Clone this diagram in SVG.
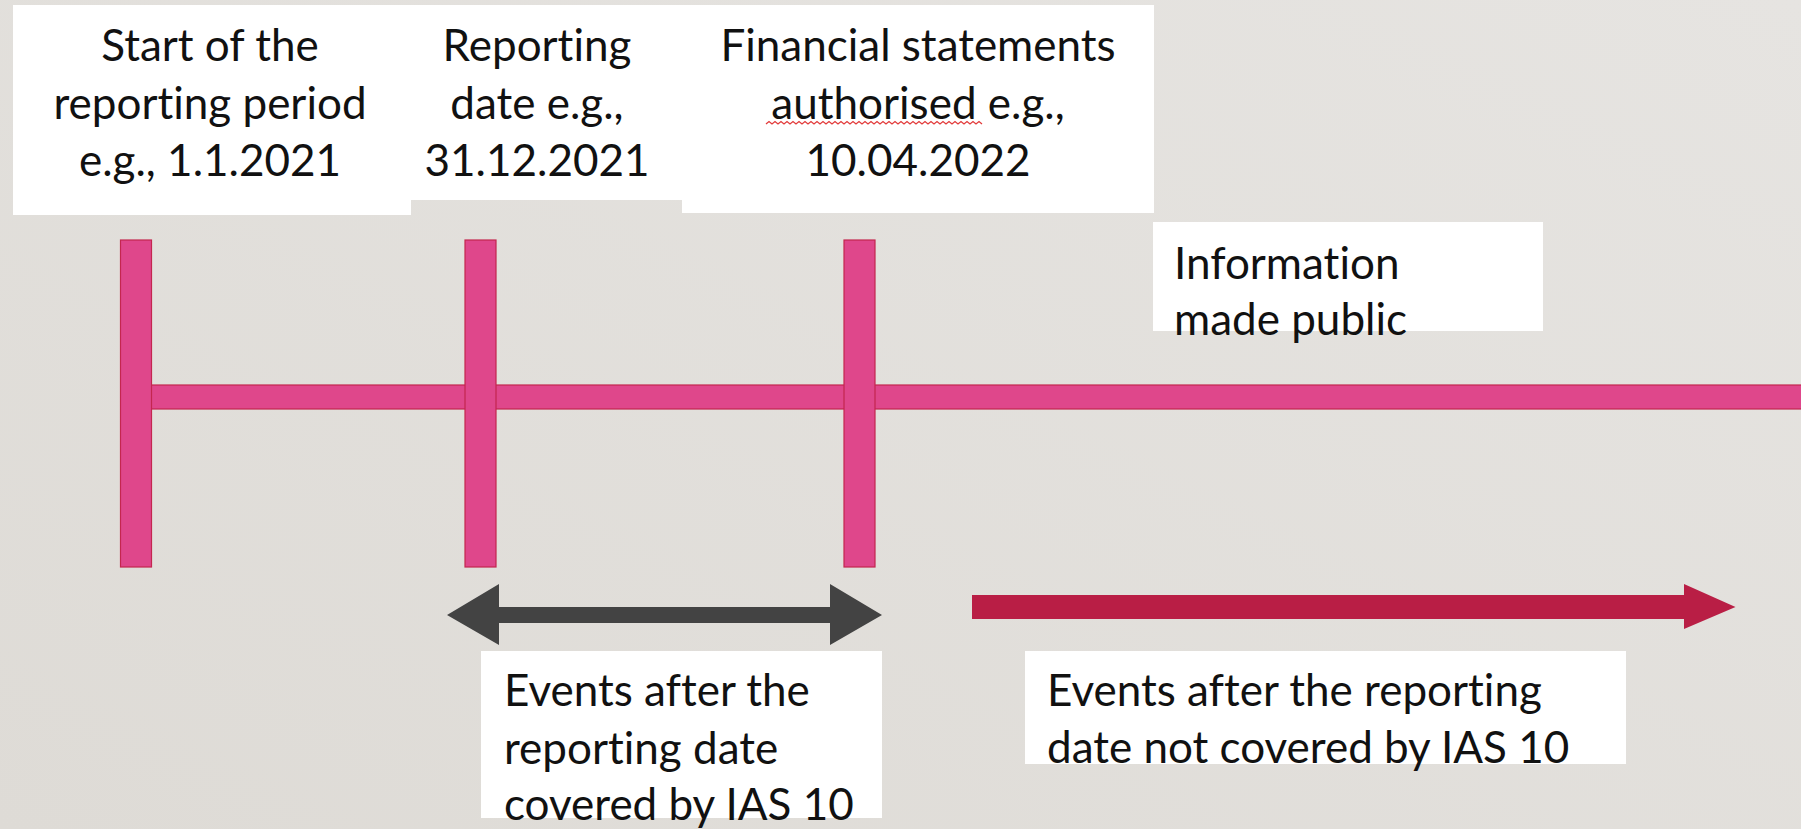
<svg xmlns="http://www.w3.org/2000/svg" width="1801" height="829" viewBox="0 0 1801 829">
  <defs>
    <linearGradient id="bg" x1="0" y1="1" x2="1" y2="0">
      <stop offset="0" stop-color="#DEDBD6"/>
      <stop offset="1" stop-color="#E6E4E1"/>
    </linearGradient>
    <style>
      .box { fill: #FFFFFF; }
      .t { font-family: Lato, "Liberation Sans", sans-serif; font-size: 44px; fill: #111111; font-variant-ligatures: none; }
      .c { text-anchor: middle; }
      .pink { fill: #DF478B; stroke: #C4264F; stroke-width: 1.2; }
    </style>
  </defs>
  <rect x="0" y="0" width="1801" height="829" fill="url(#bg)"/>

  <g id="label-start">
    <rect class="box" x="13" y="5" width="398" height="210"/>
    <text class="t c" x="210" y="61">Start of the</text>
    <text class="t c" x="210" y="119">reporting period</text>
    <text class="t c" x="210" y="176">e.g., 1.1.2021</text>
  </g>
  <g id="label-reporting">
    <rect class="box" x="411" y="5" width="271" height="195"/>
    <text class="t c" x="537" y="61">Reporting</text>
    <text class="t c" x="537" y="119">date e.g.,</text>
    <text class="t c" x="537" y="176">31.12.2021</text>
  </g>
  <g id="label-authorised">
    <rect class="box" x="682" y="5" width="472" height="208"/>
    <text class="t c" x="918" y="61">Financial statements</text>
    <text class="t c" x="918" y="119">authorised e.g.,</text>
    <text class="t c" x="918" y="176">10.04.2022</text>
    <path d="M766 124 l3 -2.5 l3 2.5 l3 -2.5 l3 2.5 l3 -2.5 l3 2.5 l3 -2.5 l3 2.5 l3 -2.5 l3 2.5 l3 -2.5 l3 2.5 l3 -2.5 l3 2.5 l3 -2.5 l3 2.5 l3 -2.5 l3 2.5 l3 -2.5 l3 2.5 l3 -2.5 l3 2.5 l3 -2.5 l3 2.5 l3 -2.5 l3 2.5 l3 -2.5 l3 2.5 l3 -2.5 l3 2.5 l3 -2.5 l3 2.5 l3 -2.5 l3 2.5 l3 -2.5 l3 2.5 l3 -2.5 l3 2.5 l3 -2.5 l3 2.5 l3 -2.5 l3 2.5 l3 -2.5 l3 2.5 l3 -2.5 l3 2.5 l3 -2.5 l3 2.5 l3 -2.5 l3 2.5 l3 -2.5 l3 2.5 l3 -2.5 l3 2.5 l3 -2.5 l3 2.5 l3 -2.5 l3 2.5 l3 -2.5 l3 2.5 l3 -2.5 l3 2.5 l3 -2.5 l3 2.5 l3 -2.5 l3 2.5 l3 -2.5 l3 2.5 l3 -2.5 l3 2.5 l3 -2.5 l3 2.5" fill="none" stroke="#E23B3B" stroke-width="1.3"/>
  </g>
  <g id="label-public">
    <rect class="box" x="1153" y="222" width="390" height="109"/>
    <text class="t" x="1174" y="279">Information</text>
    <text class="t" x="1174" y="335">made public</text>
  </g>

  <g id="timeline">
    <rect class="pink" x="150" y="385" width="1660" height="24"/>
    <rect class="pink" x="120.5" y="240" width="31" height="327"/>
    <rect class="pink" x="465" y="240" width="31" height="327"/>
    <rect class="pink" x="844" y="240" width="31" height="327"/>
  </g>

  <g id="connectors">
    <polygon points="447,615 499,584 499,607 830,607 830,584 882,615 830,645 830,623 499,623 499,645" fill="#434343"/>
    <polygon points="972,595 1684,595 1684,584 1735.5,607 1684,629 1684,619 972,619" fill="#B91E45"/>
  </g>

  <g id="label-covered">
    <rect class="box" x="481" y="651" width="401" height="167"/>
    <text class="t" x="504" y="706">Events after the</text>
    <text class="t" x="504" y="764">reporting date</text>
    <text class="t" x="504" y="820">covered by IAS 10</text>
  </g>
  <g id="label-not-covered">
    <rect class="box" x="1025" y="651" width="601" height="113"/>
    <text class="t" x="1047" y="706">Events after the reporting</text>
    <text class="t" x="1047" y="763">date not covered by IAS 10</text>
  </g>
</svg>
